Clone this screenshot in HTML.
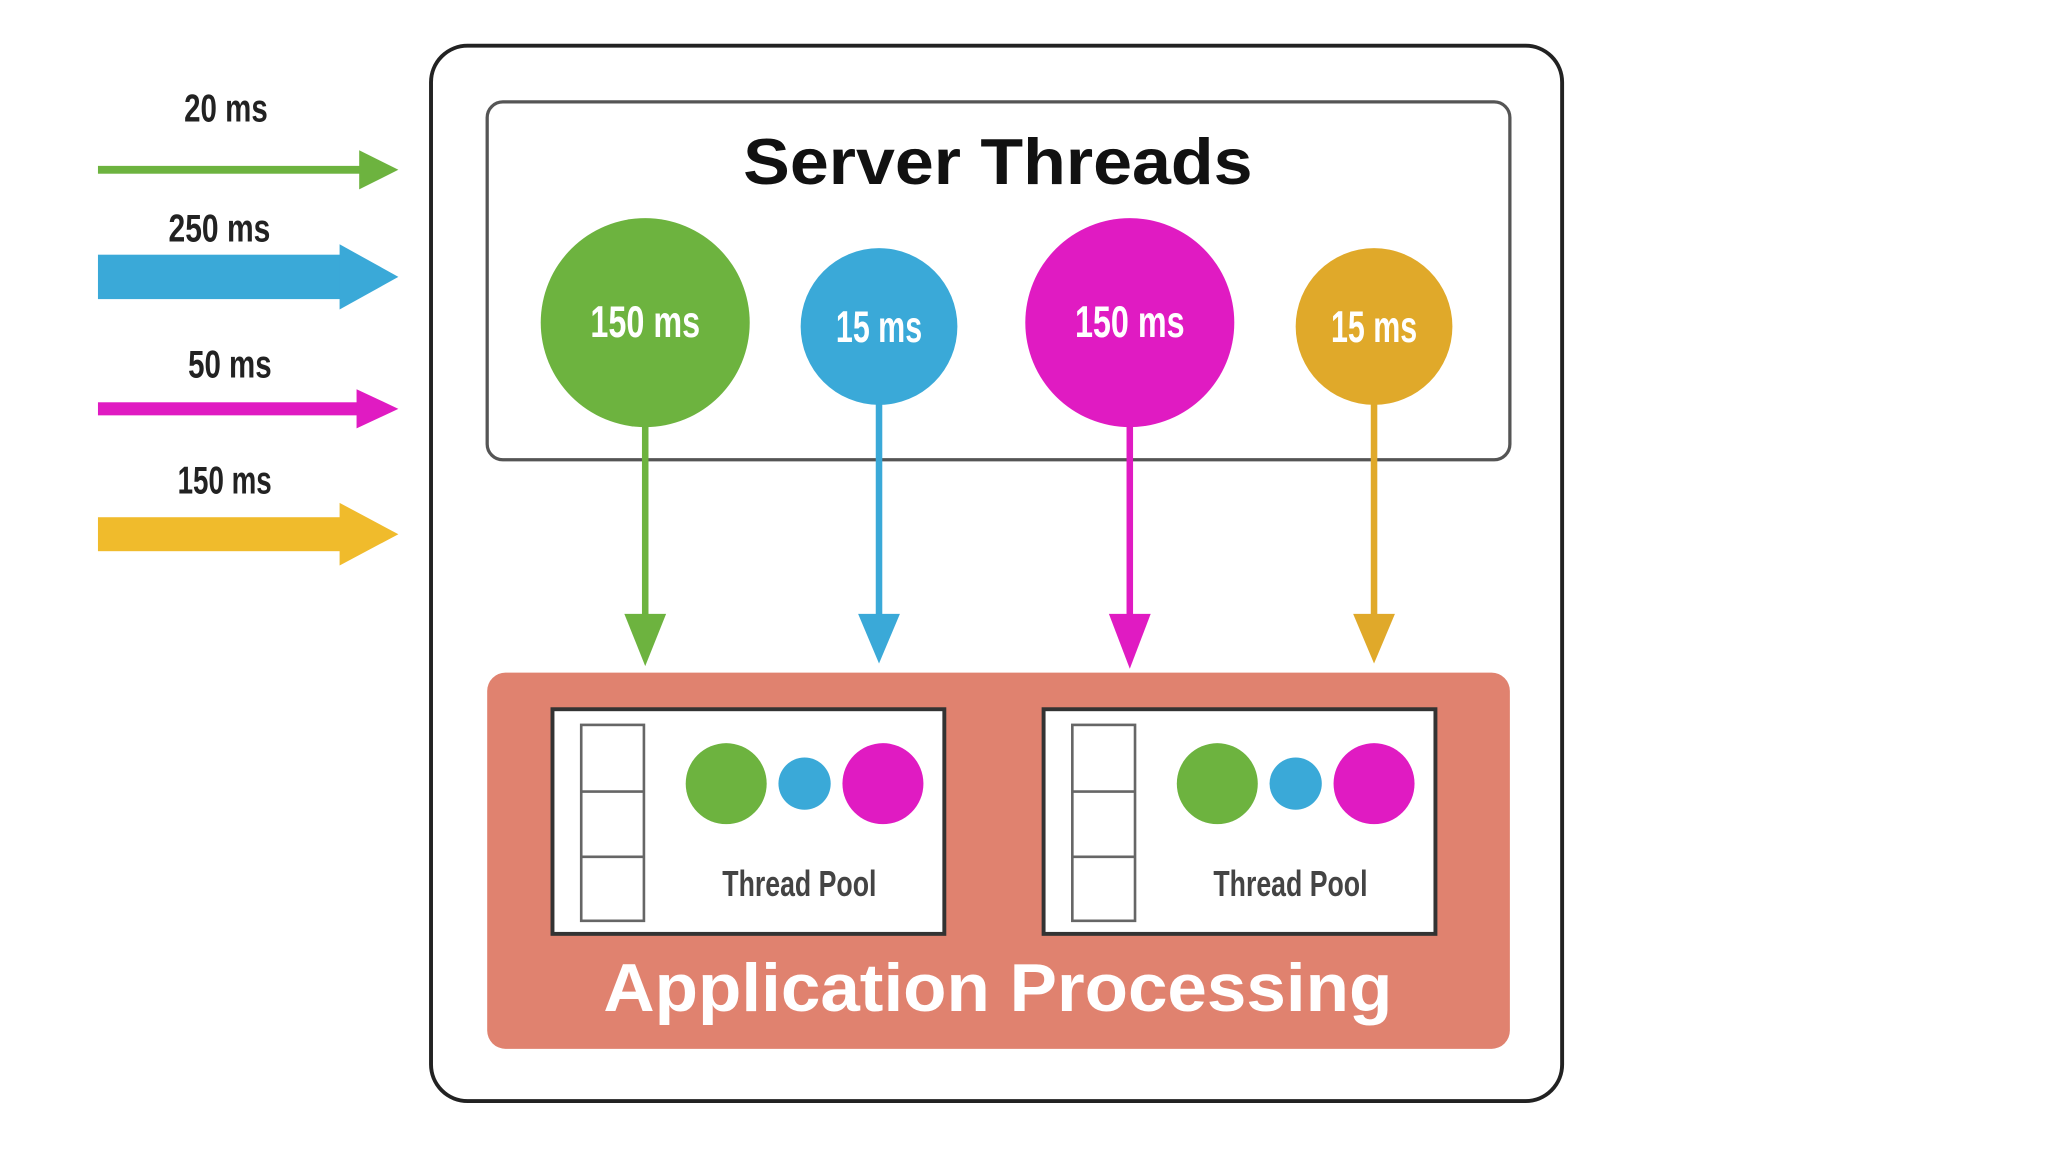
<!DOCTYPE html>
<html><head><meta charset="utf-8"><style>
html,body{margin:0;padding:0;background:#fff;}
svg{display:block}
.c{font-family:"Liberation Sans Narrow","Liberation Sans",sans-serif;font-weight:bold;}
</style></head><body>
<svg width="2048" height="1152" viewBox="0 0 1568 882" xmlns="http://www.w3.org/2000/svg">
<rect width="1568" height="882" fill="#fff"/>
<rect x="330" y="35" width="866" height="808" rx="28" fill="#fff" stroke="#222" stroke-width="3"/>
<rect x="373" y="78" width="783" height="274" rx="12" fill="#fff" stroke="#555" stroke-width="2.5"/>
<text x="764" y="141" text-anchor="middle" font-family="Liberation Sans,sans-serif" font-weight="bold" font-size="50" fill="#111" textLength="390" lengthAdjust="spacingAndGlyphs">Server Threads</text>

<g stroke-width="5" fill="none">
<line x1="494" y1="320" x2="494" y2="480" stroke="#6db33f"/>
<line x1="673" y1="305" x2="673" y2="480" stroke="#3aa9d8"/>
<line x1="865" y1="320" x2="865" y2="480" stroke="#e01bc2"/>
<line x1="1052" y1="305" x2="1052" y2="480" stroke="#e0a92a"/>
</g>
<polygon points="478,470 510,470 494,510" fill="#6db33f"/>
<polygon points="657,470 689,470 673,508" fill="#3aa9d8"/>
<polygon points="849,470 881,470 865,512" fill="#e01bc2"/>
<polygon points="1036,470 1068,470 1052,508" fill="#e0a92a"/>

<circle cx="494" cy="247" r="80" fill="#6db33f"/>
<circle cx="673" cy="250" r="60" fill="#3aa9d8"/>
<circle cx="865" cy="247" r="80" fill="#e01bc2"/>
<circle cx="1052" cy="250" r="60" fill="#e0a92a"/>
<g class="c" font-size="34" fill="#fff" text-anchor="middle">
<text x="494" y="258" textLength="84" lengthAdjust="spacingAndGlyphs">150 ms</text>
<text x="673" y="262" textLength="66" lengthAdjust="spacingAndGlyphs">15 ms</text>
<text x="865" y="258" textLength="84" lengthAdjust="spacingAndGlyphs">150 ms</text>
<text x="1052" y="262" textLength="66" lengthAdjust="spacingAndGlyphs">15 ms</text>
</g>

<rect x="75" y="127" width="205" height="6" fill="#6db33f"/>
<polygon points="275,115 305,130 275,145" fill="#6db33f"/>
<rect x="75" y="195" width="190" height="34" fill="#3aa9d8"/>
<polygon points="260,187 305,212 260,237" fill="#3aa9d8"/>
<rect x="75" y="308" width="205" height="10" fill="#e01bc2"/>
<polygon points="273,298 305,313 273,328" fill="#e01bc2"/>
<rect x="75" y="396" width="190" height="26" fill="#f0bb2c"/>
<polygon points="260,385 305,409 260,433" fill="#f0bb2c"/>
<g class="c" font-size="30" fill="#222" text-anchor="middle">
<text x="173" y="93" textLength="64" lengthAdjust="spacingAndGlyphs">20 ms</text>
<text x="168" y="185" textLength="78" lengthAdjust="spacingAndGlyphs">250 ms</text>
<text x="176" y="289" textLength="64" lengthAdjust="spacingAndGlyphs">50 ms</text>
<text x="172" y="378" textLength="72" lengthAdjust="spacingAndGlyphs">150 ms</text>
</g>

<rect x="373" y="515" width="783" height="288" rx="14" fill="#e0826f"/>
<g id="tp">
<rect x="423" y="543" width="300" height="172" fill="#fff" stroke="#333" stroke-width="3"/>
<rect x="445" y="555" width="48" height="150" fill="#fff" stroke="#666" stroke-width="2"/>
<line x1="445" y1="606" x2="493" y2="606" stroke="#666" stroke-width="2"/>
<line x1="445" y1="656" x2="493" y2="656" stroke="#666" stroke-width="2"/>
<circle cx="556" cy="600" r="31" fill="#6db33f"/>
<circle cx="616" cy="600" r="20" fill="#3aa9d8"/>
<circle cx="676" cy="600" r="31" fill="#e01bc2"/>
<text x="612" y="686" class="c" font-size="28" fill="#444" text-anchor="middle" textLength="118" lengthAdjust="spacingAndGlyphs">Thread Pool</text>
</g>
<use href="#tp" x="376" y="0"/>
<text x="764" y="774" text-anchor="middle" font-family="Liberation Sans,sans-serif" font-weight="bold" font-size="52" fill="#fff" textLength="604" lengthAdjust="spacingAndGlyphs">Application Processing</text>
</svg>
</body></html>
